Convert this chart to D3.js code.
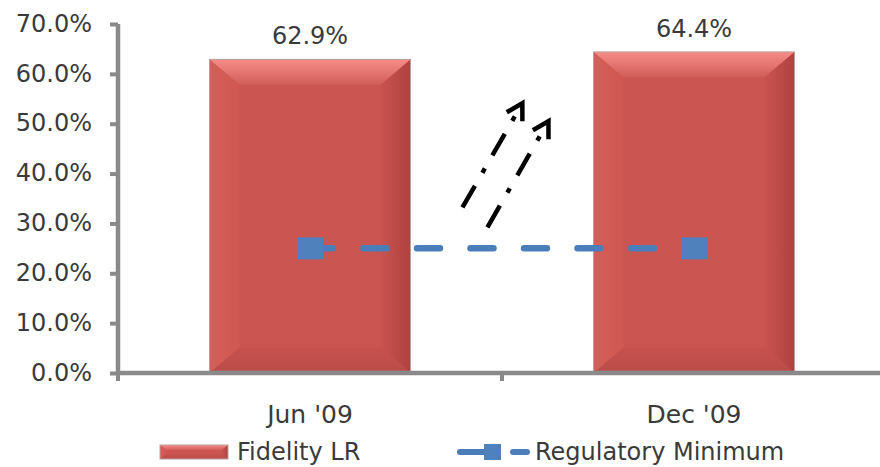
<!DOCTYPE html>
<html>
<head>
<meta charset="utf-8">
<script src="https://cdn.jsdelivr.net/npm/d3@7/dist/d3.min.js"></script>
<style>
  html, body { margin: 0; padding: 0; background: #fff; }
  svg { display: block; }
  text { font-family: "DejaVu Sans", Verdana, sans-serif; fill: #3a3a3a; }
</style>
</head>
<body>
<svg id="chart" width="880" height="467"></svg>
<script>
// Liquidity ratio vs. regulatory minimum
const categories = ["Jun '09", "Dec '09"];
const fidelityLR = [62.9, 64.4];
const regulatoryMinimum = [25, 25];
const yTicks = [0, 10, 20, 30, 40, 50, 60, 70];
const seriesNames = ["Fidelity LR", "Regulatory Minimum"];
// Upward-trend arrows: position t between the two category centres, value in %
const trendArrows = [
  { t0: 0.397, v0: 33.2, t1: 0.553, v1: 54.1 },
  { t0: 0.462, v0: 29.2, t1: 0.621, v1: 50.5 }
];

const W = 880, H = 467;
const plot = { left: 118, right: 886, top: 24, bottom: 373 };
const svg = d3.select("#chart");
const defs = svg.append("defs");

const y = d3.scaleLinear().domain([0, 70]).range([plot.bottom, plot.top]);
const x = d3.scaleBand().domain(categories)
  .range([plot.left, plot.right])
  .paddingInner(0.4766).paddingOuter(0.2383);
const cx = c => x(c) + x.bandwidth() / 2;
const between = d3.scaleLinear().domain([0, 1]).range([cx(categories[0]), cx(categories[1])]);
const pct = d3.format(".1%");

// Gradients for the bevelled bars
function grad(id, x1, y1, x2, y2, stops) {
  const g = defs.append("linearGradient").attr("id", id)
    .attr("x1", x1).attr("y1", y1).attr("x2", x2).attr("y2", y2);
  stops.forEach(s => g.append("stop").attr("offset", s[0]).attr("stop-color", s[1]));
}
grad("bevTop", 0, 0, 0, 1, [[0, "#f88c88"], [1, "#d05d58"]]);
grad("bevLeft", 0, 0, 1, 0, [[0, "#d65e59"], [1, "#cf5853"]]);
grad("bevRight", 0, 0, 1, 0, [[0, "#c85451"], [1, "#b0423f"]]);
grad("bevBottom", 0, 0, 0, 1, [[0, "#c6524e"], [1, "#bb4c48"]]);

function bevelBar(g, x0, y0, w, h, b) {
  const x1 = x0 + w, y1 = y0 + h;
  const bx = Math.min(b, w / 2), by = Math.min(b * 0.85, h / 2);
  g.append("rect").attr("x", x0).attr("y", y0).attr("width", w).attr("height", h)
    .attr("fill", "#cb5551");
  const poly = (pts, fill) => g.append("polygon")
    .attr("points", pts.map(p => p.join(",")).join(" ")).attr("fill", fill);
  poly([[x0, y0], [x1, y0], [x1 - bx, y0 + by], [x0 + bx, y0 + by]], "url(#bevTop)");
  poly([[x0, y0], [x0 + bx, y0 + by], [x0 + bx, y1 - by], [x0, y1]], "url(#bevLeft)");
  poly([[x1, y0], [x1, y1], [x1 - bx, y1 - by], [x1 - bx, y0 + by]], "url(#bevRight)");
  poly([[x0, y1], [x0 + bx, y1 - by], [x1 - bx, y1 - by], [x1, y1]], "url(#bevBottom)");
  g.append("rect").attr("x", x0).attr("y", y0).attr("width", w).attr("height", h)
    .attr("fill", "none").attr("stroke", "#b9a09e").attr("stroke-width", 1);
}

// Bars
const barG = svg.append("g");
categories.forEach((c, i) => {
  const g = barG.append("g");
  bevelBar(g, x(c), y(fidelityLR[i]), x.bandwidth(), y(0) - y(fidelityLR[i]), 30);
});

// Value labels
svg.append("g").selectAll("text").data(categories).join("text")
  .attr("x", c => cx(c))
  .attr("y", (c, i) => y(fidelityLR[i]) - 15)
  .attr("text-anchor", "middle")
  .attr("font-size", 24)
  .text((c, i) => pct(fidelityLR[i] / 100));

// Regulatory minimum line
const line = d3.line().x((d, i) => cx(categories[i])).y(d => y(d));
svg.append("path").datum(regulatoryMinimum)
  .attr("d", line)
  .attr("fill", "none").attr("stroke", "#4a7ebb")
  .attr("stroke-width", 6.5).attr("stroke-linecap", "round")
  .attr("stroke-dasharray", "23,30.5");
svg.append("g").selectAll("rect").data(regulatoryMinimum).join("rect")
  .attr("x", (d, i) => cx(categories[i]) - 13)
  .attr("y", d => y(d) - 11)
  .attr("width", 26).attr("height", 22)
  .attr("fill", "#4f81bd");

// Axes
const axisColor = "#8a8a8a";
const yAxis = svg.append("g").attr("transform", `translate(${plot.left},0)`)
  .call(d3.axisLeft(y).tickValues(yTicks).tickSize(8).tickPadding(18)
    .tickFormat(v => pct(v / 100)));
yAxis.select(".domain").attr("stroke", axisColor).attr("stroke-width", 4.5)
  .attr("d", `M0,${plot.top}V${plot.bottom}`);
yAxis.selectAll(".tick line").attr("stroke", axisColor).attr("stroke-width", 4);
yAxis.selectAll(".tick text").attr("font-size", 24).attr("fill", "#3a3a3a")
  .attr("font-family", "DejaVu Sans, Verdana, sans-serif").attr("dy", "0.3em");

const xAxis = svg.append("g").attr("transform", `translate(0,${plot.bottom})`)
  .call(d3.axisBottom(x).tickSize(0).tickPadding(32));
xAxis.select(".domain").attr("stroke", axisColor).attr("stroke-width", 4.5)
  .attr("d", `M${plot.left - 2},0H${plot.right}`);
xAxis.selectAll(".tick text").attr("font-size", 25).attr("fill", "#3a3a3a")
  .attr("font-family", "DejaVu Sans, Verdana, sans-serif");
// Category boundary ticks
const bounds = [plot.left, x(categories[1]) - x.step() * x.paddingInner() / 2, plot.right];
xAxis.append("g").selectAll("line").data(bounds).join("line")
  .attr("x1", d => d).attr("x2", d => d).attr("y1", 0).attr("y2", 8)
  .attr("stroke", axisColor).attr("stroke-width", 4);

// Trend arrows
const arrowG = svg.append("g");
trendArrows.forEach(a => {
  const p0 = [between(a.t0), y(a.v0)], p1 = [between(a.t1), y(a.v1)];
  const ang = Math.atan2(p1[1] - p0[1], p1[0] - p0[0]);
  const len = Math.hypot(p1[0] - p0[0], p1[1] - p0[1]);
  arrowG.append("line")
    .attr("x1", p0[0]).attr("y1", p0[1])
    .attr("x2", p0[0] + Math.cos(ang) * (len - 4)).attr("y2", p0[1] + Math.sin(ang) * (len - 4))
    .attr("stroke", "#000").attr("stroke-width", 4.5)
    .attr("stroke-dasharray", "25,15,5,15");
  const hl = 18, spread = Math.PI / 6;
  const back = ang + Math.PI;
  const h1 = [p1[0] + Math.cos(back - spread) * hl, p1[1] + Math.sin(back - spread) * hl];
  const h2 = [p1[0] + Math.cos(back + spread) * hl, p1[1] + Math.sin(back + spread) * hl];
  arrowG.append("path")
    .attr("d", `M${h1[0]},${h1[1]}L${p1[0]},${p1[1]}L${h2[0]},${h2[1]}`)
    .attr("fill", "none").attr("stroke", "#000").attr("stroke-width", 4.5)
    .attr("stroke-linejoin", "miter");
});

// Legend
const legend = svg.append("g");
const swatch = legend.append("g");
bevelBar(swatch, 160, 445, 68, 14, 6);
legend.append("text").attr("x", 237).attr("y", 460).attr("font-size", 24).text(seriesNames[0]);
legend.append("line").attr("x1", 460).attr("x2", 484).attr("y1", 452).attr("y2", 452)
  .attr("stroke", "#4a7ebb").attr("stroke-width", 6).attr("stroke-linecap", "round");
legend.append("rect").attr("x", 484).attr("y", 444).attr("width", 17).attr("height", 16)
  .attr("fill", "#4f81bd");
legend.append("line").attr("x1", 513).attr("x2", 527).attr("y1", 452).attr("y2", 452)
  .attr("stroke", "#4a7ebb").attr("stroke-width", 6).attr("stroke-linecap", "round");
legend.append("text").attr("x", 535).attr("y", 460).attr("font-size", 24).text(seriesNames[1]);
</script>
</body>
</html>
